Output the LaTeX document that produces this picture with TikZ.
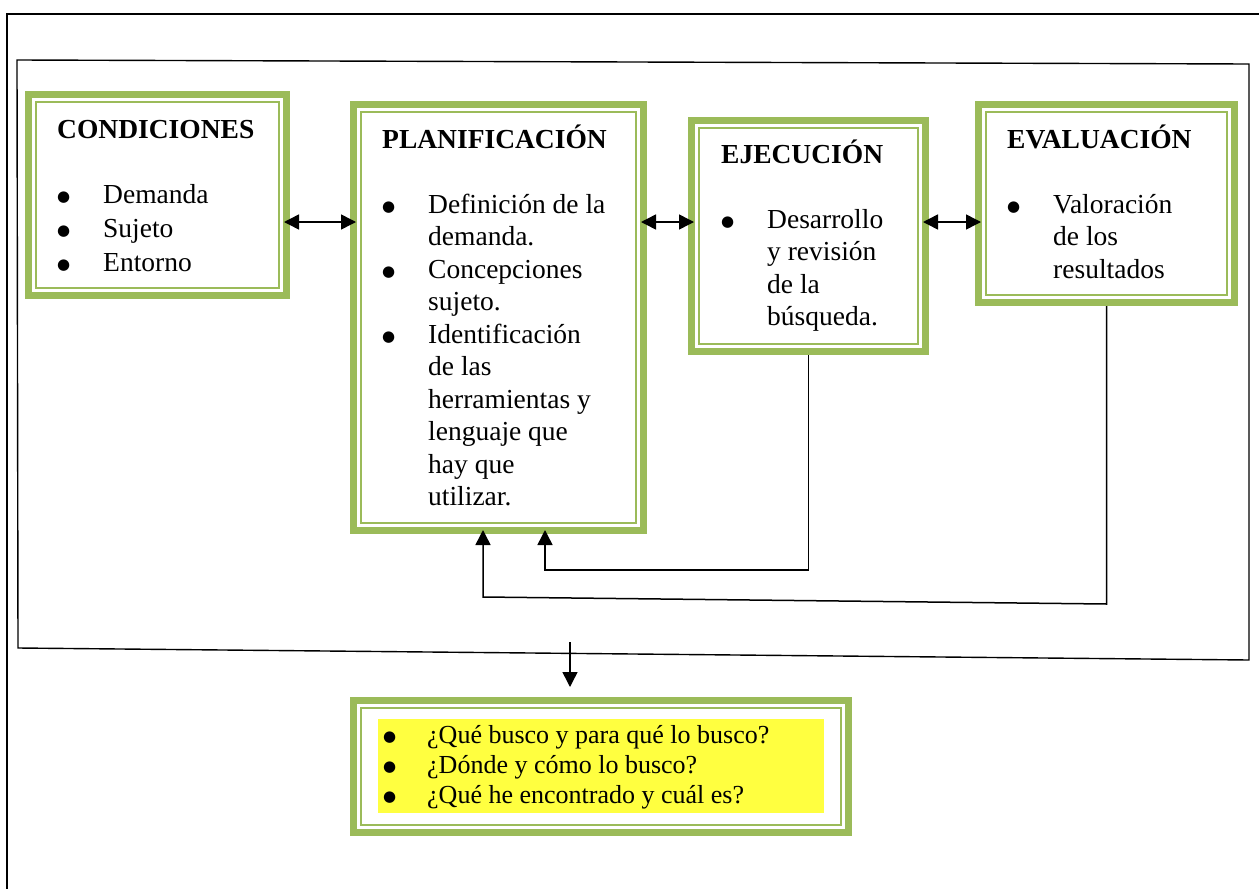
\documentclass[tikz,border=0pt]{standalone}
\usepackage{fontspec}
\setmainfont{Liberation Serif}
\newfontfamily\simbolos{DejaVu Sans}
\usetikzlibrary{arrows.meta}
\definecolor{verde}{RGB}{155,187,89}
\definecolor{amarillo}{RGB}{255,255,64}
\newcommand{\punto}{\raisebox{2pt}{\simbolos\fontsize{15}{15}\selectfont ●}}
\tikzset{
  etapa/.style={draw=verde, line width=7pt, fill=white, anchor=north west, inner sep=0pt},
  marco/.style={draw=verde, line width=2.2pt},
  lista/.style={anchor=base west, inner sep=0pt, font=\fontsize{27.5}{32.5}\selectfont},
  flecha/.style={line width=1.5pt, -{Triangle[length=15pt,width=15pt]}},
  doble/.style={line width=1.5pt, {Triangle[length=15pt,width=15pt]}-{Triangle[length=15pt,width=15pt]},
    shorten <=-6pt, shorten >=-6pt},
}
\begin{document}
\begin{tikzpicture}[x=1pt, y=-1pt]
    \useasboundingbox (0,0) rectangle (1259,889);
    \draw[line width=1.8pt] (7,889) -- (7,14) -- (1259,14);
    \draw[line width=1.4pt] (17,60) -- (1249,64) -- (1249,660) -- (18,648) -- cycle;

    % etapas
    \node[etapa, minimum width=258pt, minimum height=201pt] (cond) at (25,91) {};
    \node[etapa, minimum width=290pt, minimum height=426pt] (plan) at (350,101) {};
    \node[etapa, minimum width=234pt, minimum height=231pt] (ejec) at (688,117) {};
    \node[etapa, minimum width=256pt, minimum height=198pt] (eval) at (975,101) {};
    \node[etapa, minimum width=495pt, minimum height=132pt] (preg) at (350,697) {};
    \foreach \n in {cond,plan,ejec,eval,preg}
        \draw[marco] ([xshift=11pt,yshift=-11pt]\n.north west) rectangle ([xshift=-11pt,yshift=11pt]\n.south east);

    \node[lista, font=\fontsize{27.5}{34}\selectfont] at (57,138) {\begin{tabular}[t]{@{}p{46pt}@{}l@{}}
        \multicolumn{2}{@{}l@{}}{\textbf{CONDICIONES}}\\[31pt]
        \punto & Demanda\\
        \punto & Sujeto\\
        \punto & Entorno
    \end{tabular}};
    \node[lista] at (382,148) {\begin{tabular}[t]{@{}p{46pt}@{}l@{}}
        \multicolumn{2}{@{}l@{}}{\textbf{PLANIFICACIÓN}}\\[32.5pt]
        \punto & Definición de la\\
         & demanda.\\
        \punto & Concepciones\\
         & sujeto.\\
        \punto & Identificación\\
         & de las\\
         & herramientas y\\
         & lenguaje que\\
         & hay que\\
         & utilizar.
    \end{tabular}};
    \node[lista] at (721,163) {\begin{tabular}[t]{@{}p{46pt}@{}l@{}}
        \multicolumn{2}{@{}l@{}}{\textbf{EJECUCIÓN}}\\[32.5pt]
        \punto & Desarrollo\\
         & y revisión\\
         & de la\\
         & búsqueda.
    \end{tabular}};
    \node[lista] at (1007,148) {\begin{tabular}[t]{@{}p{46pt}@{}l@{}}
        \multicolumn{2}{@{}l@{}}{\textbf{EVALUACIÓN}}\\[32.5pt]
        \punto & Valoración\\
         & de los\\
         & resultados
    \end{tabular}};

    % preguntas
    \node[fill=amarillo, anchor=north west, inner sep=0pt, minimum width=446pt, minimum height=94pt] (resaltado) at (378,719) {};
    \node[lista, font=\fontsize{26}{30}\selectfont] at (383,743) {\begin{tabular}[t]{@{}p{44pt}@{}l@{}}
        \punto & ¿Qué busco y para qué lo busco?\\
        \punto & ¿Dónde y cómo lo busco?\\
        \punto & ¿Qué he encontrado y cuál es?
    \end{tabular}};

    % conexiones
    \draw[doble] (cond.east |- 0,222) -- (plan.west |- 0,222);
    \draw[doble] (plan.east |- 0,222) -- (ejec.west |- 0,222);
    \draw[doble] (ejec.east |- 0,222) -- (eval.west |- 0,222);
    \draw[flecha, shorten >=-4pt] (ejec.south) |- (545,570) -- (545,0 |- plan.south);
    \draw[flecha, shorten >=-4pt] (eval.south) -- (eval.south |- 0,604) -- (483,597) -- (483,0 |- plan.south);
    \coordinate (salida) at (570,642);
    \draw[flecha, shorten >=10pt] (salida) -- (salida |- preg.north);
\end{tikzpicture}
\end{document}
